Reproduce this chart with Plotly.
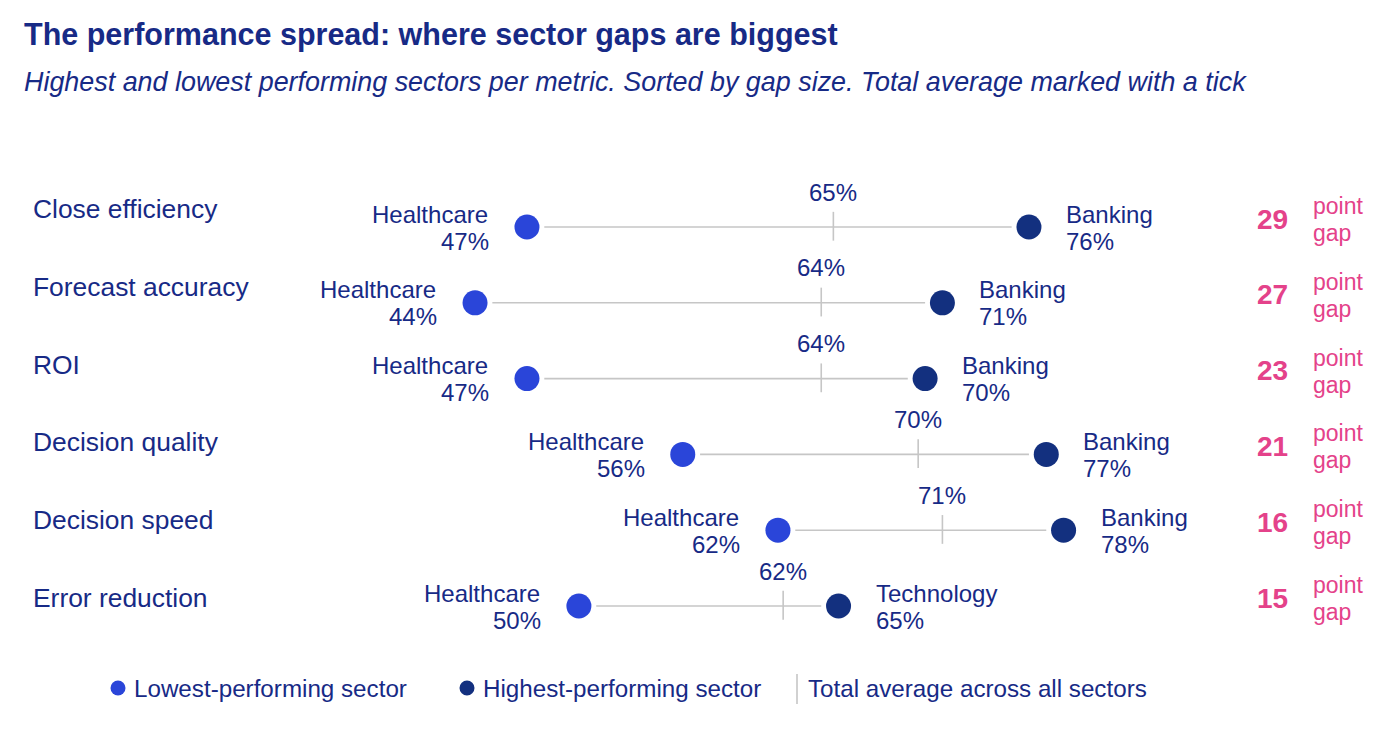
import plotly.graph_objects as go

metrics = ["Close efficiency", "Forecast accuracy", "ROI", "Decision quality",
           "Decision speed", "Error reduction"]
low_sector = ["Healthcare", "Healthcare", "Healthcare", "Healthcare", "Healthcare", "Healthcare"]
low_vals = [47, 44, 47, 56, 61.5, 50]
high_sector = ["Banking", "Banking", "Banking", "Banking", "Banking", "Technology"]
high_vals = [76, 71, 70, 77, 78, 65]
avg_vals = [64.7, 64.0, 64.0, 69.6, 71.0, 61.8]

W, H = 1400, 736
FONT = "Liberation Sans, Arial, Helvetica, sans-serif"
NAVY_TXT = "#172a86"
LOW_C = "#2a45d9"
HIGH_C = "#13307f"
PINK = "#e4428a"
GRAY = "#c6c6c6"


def px(x):
    return x / W


def py(y):
    return 1 - y / H


rows = list(range(len(metrics)))

fig = go.Figure()

# connectors and average ticks
shapes = []
for i in rows:
    shapes.append(dict(type="line", xref="x", yref="y",
                       x0=low_vals[i] + 1.0, x1=high_vals[i] - 1.0, y0=i, y1=i,
                       line=dict(color=GRAY, width=1.6)))
    shapes.append(dict(type="line", xref="x", yref="y",
                       x0=avg_vals[i], x1=avg_vals[i], y0=i - 0.2, y1=i + 0.18,
                       line=dict(color=GRAY, width=1.6)))

fig.add_trace(go.Scatter(x=low_vals, y=rows, mode="markers",
                         marker=dict(size=25, color=LOW_C), showlegend=False,
                         hoverinfo="skip"))
fig.add_trace(go.Scatter(x=high_vals, y=rows, mode="markers",
                         marker=dict(size=25, color=HIGH_C), showlegend=False,
                         hoverinfo="skip"))

ann = []
lab_font = dict(family=FONT, size=24, color=NAVY_TXT)
for i in rows:
    # metric label
    ann.append(dict(xref="paper", yref="paper", x=px(31), y=py(209 + 77.8 * i),
                    text=metrics[i], showarrow=False, xanchor="left", yanchor="middle",
                    font=dict(family=FONT, size=26.4, color=NAVY_TXT)))
    # low labels
    ann.append(dict(x=low_vals[i], y=i, text=low_sector[i], showarrow=False,
                    xanchor="right", yanchor="middle", xshift=-37, yshift=13, font=lab_font))
    ann.append(dict(x=low_vals[i], y=i, text=f"{round(low_vals[i])}%", showarrow=False,
                    xanchor="right", yanchor="middle", xshift=-36, yshift=-14, font=lab_font))
    # high labels
    ann.append(dict(x=high_vals[i], y=i, text=high_sector[i], showarrow=False,
                    xanchor="left", yanchor="middle", xshift=35, yshift=13, font=lab_font))
    ann.append(dict(x=high_vals[i], y=i, text=f"{round(high_vals[i])}%", showarrow=False,
                    xanchor="left", yanchor="middle", xshift=35, yshift=-14, font=lab_font))
    # average label
    ann.append(dict(x=avg_vals[i], y=i, text=f"{round(avg_vals[i])}%", showarrow=False,
                    xanchor="center", yanchor="middle", yshift=35, font=lab_font))
    # gap
    gap = round(high_vals[i] - low_vals[i])
    ann.append(dict(xref="paper", yref="y", x=px(1290), y=i, text=f"<b>{gap}</b>",
                    showarrow=False, xanchor="right", yanchor="middle", yshift=8,
                    font=dict(family=FONT, size=28, color=PINK)))
    ann.append(dict(xref="paper", yref="y", x=px(1311), y=i, text="point",
                    showarrow=False, xanchor="left", yanchor="middle", yshift=21,
                    font=dict(family=FONT, size=23, color=PINK)))
    ann.append(dict(xref="paper", yref="y", x=px(1311), y=i, text="gap",
                    showarrow=False, xanchor="left", yanchor="middle", yshift=-6,
                    font=dict(family=FONT, size=23, color=PINK)))

# title and subtitle
ann.append(dict(xref="paper", yref="paper", x=px(22), y=py(35),
                text="<b>The performance spread: where sector gaps are biggest</b>",
                showarrow=False, xanchor="left", yanchor="middle",
                font=dict(family=FONT, size=30.5, color=NAVY_TXT)))
ann.append(dict(xref="paper", yref="paper", x=px(22), y=py(82),
                text="<i>Highest and lowest performing sectors per metric. Sorted by gap size. Total average marked with a tick</i>",
                showarrow=False, xanchor="left", yanchor="middle",
                font=dict(family=FONT, size=26.9, color=NAVY_TXT)))

# legend (manual)
leg_y = 688
leg_font = dict(family=FONT, size=24.2, color=NAVY_TXT)
for cx, col in [(118, LOW_C), (467, HIGH_C)]:
    shapes.append(dict(type="circle", xref="paper", yref="paper",
                       xsizemode="pixel", ysizemode="pixel",
                       xanchor=px(cx), yanchor=py(leg_y),
                       x0=-7.5, x1=7.5, y0=-7.5, y1=7.5,
                       fillcolor=col, line=dict(width=0)))
shapes.append(dict(type="line", xref="paper", yref="paper", x0=px(797), x1=px(797),
                   y0=py(674), y1=py(704), line=dict(color=GRAY, width=1.6)))
for tx, t in [(132, "Lowest-performing sector"), (481, "Highest-performing sector"),
              (806, "Total average across all sectors")]:
    ann.append(dict(xref="paper", yref="paper", x=px(tx), y=py(leg_y), text=t,
                    showarrow=False, xanchor="left", yanchor="middle", font=leg_font))

x0 = 286.6 / 17.31
x1 = (W + 286.6) / 17.31
y_top = -227 / 75.8
y_bot = (H - 227) / 75.8

fig.update_layout(
    width=W, height=H,
    margin=dict(l=0, r=0, t=0, b=0),
    paper_bgcolor="white", plot_bgcolor="white",
    xaxis=dict(range=[x0, x1], visible=False, fixedrange=True),
    yaxis=dict(range=[y_bot, y_top], visible=False, fixedrange=True),
    shapes=shapes, annotations=ann, showlegend=False,
    font=dict(family=FONT),
)

fig.write_html("out.html")
